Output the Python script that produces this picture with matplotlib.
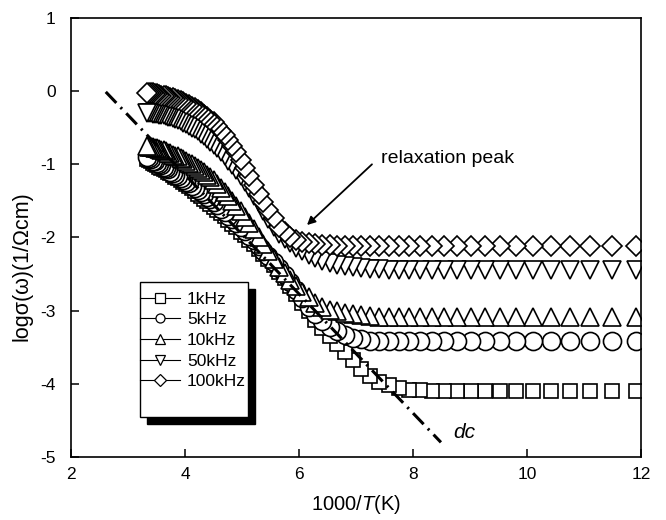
import numpy as np
import matplotlib
matplotlib.use("Agg")
import matplotlib.pyplot as plt
from matplotlib.lines import Line2D
from matplotlib.patches import Rectangle

plt.rcParams['font.family'] = ['Liberation Sans', 'DejaVu Sans']
plt.rcParams['axes.unicode_minus'] = False
plt.rcParams['mathtext.fontset'] = 'custom'
plt.rcParams['mathtext.rm'] = 'Liberation Sans'
plt.rcParams['mathtext.it'] = 'Liberation Sans:italic'

# measurement temperatures (K), high to low
temps = [300, 297, 294, 291, 288, 285, 282, 279, 276, 273, 270, 267, 264, 261, 258, 255,
         252, 249, 246, 243, 240, 237, 234, 231, 228, 225, 222, 219, 216, 213, 210, 207,
         204, 201, 198, 195, 192, 189, 186, 183, 180, 177, 174, 171, 168, 165, 162, 159,
         156, 153, 150, 147, 144, 141, 138, 135, 132, 129, 126, 123, 120, 117, 114, 111,
         108, 105, 102, 99, 96, 93, 90, 87, 84]

# log sigma for each frequency, same order as temps
s_1k = [-0.93, -0.94, -0.96, -0.98, -1.00, -1.01, -1.03, -1.05, -1.06, -1.08, -1.10, -1.12,
        -1.15, -1.17, -1.19, -1.22, -1.24, -1.27, -1.30, -1.33, -1.36, -1.40, -1.43, -1.47,
        -1.50, -1.54, -1.58, -1.62, -1.67, -1.71, -1.76, -1.81, -1.86, -1.92, -1.97, -2.03,
        -2.09, -2.16, -2.23, -2.30, -2.38, -2.47, -2.56, -2.66, -2.77, -2.89, -3.01, -3.13,
        -3.24, -3.35, -3.46, -3.57, -3.68, -3.80, -3.90, -3.97, -4.02, -4.06, -4.08, -4.09,
        -4.10, -4.10, -4.10, -4.10, -4.10, -4.10, -4.10, -4.10, -4.10, -4.10, -4.10, -4.10,
        -4.10]
s_5k = [-0.90, -0.91, -0.93, -0.95, -0.96, -0.98, -1.00, -1.01, -1.03, -1.05, -1.07, -1.10,
        -1.12, -1.14, -1.16, -1.19, -1.21, -1.24, -1.26, -1.29, -1.32, -1.35, -1.38, -1.41,
        -1.45, -1.48, -1.52, -1.56, -1.61, -1.65, -1.70, -1.75, -1.80, -1.86, -1.91, -1.98,
        -2.04, -2.11, -2.18, -2.25, -2.33, -2.42, -2.51, -2.61, -2.72, -2.83, -2.95, -3.05,
        -3.14, -3.22, -3.28, -3.33, -3.37, -3.39, -3.41, -3.41, -3.42, -3.42, -3.42, -3.42,
        -3.42, -3.42, -3.42, -3.42, -3.42, -3.42, -3.42, -3.42, -3.42, -3.42, -3.42, -3.42,
        -3.42]
s_10k = [-0.75, -0.76, -0.76, -0.77, -0.78, -0.78, -0.79, -0.80, -0.81, -0.82, -0.84, -0.85,
         -0.87, -0.88, -0.89, -0.91, -0.93, -0.95, -0.98, -1.00, -1.02, -1.05, -1.08, -1.11,
         -1.15, -1.18, -1.22, -1.27, -1.32, -1.38, -1.43, -1.50, -1.57, -1.64, -1.72, -1.80,
         -1.89, -1.99, -2.09, -2.19, -2.29, -2.40, -2.49, -2.58, -2.66, -2.74, -2.82, -2.89,
         -2.95, -2.99, -3.01, -3.03, -3.05, -3.06, -3.07, -3.08, -3.08, -3.08, -3.08, -3.08,
         -3.08, -3.08, -3.08, -3.08, -3.08, -3.08, -3.08, -3.08, -3.08, -3.08, -3.08, -3.08,
         -3.08]
s_50k = [-0.30, -0.30, -0.30, -0.31, -0.31, -0.31, -0.32, -0.32, -0.33, -0.34, -0.35, -0.36,
         -0.37, -0.38, -0.40, -0.41, -0.43, -0.45, -0.47, -0.50, -0.52, -0.55, -0.58, -0.61,
         -0.65, -0.69, -0.73, -0.78, -0.83, -0.89, -0.95, -1.01, -1.08, -1.16, -1.24, -1.33,
         -1.43, -1.53, -1.64, -1.75, -1.85, -1.95, -2.02, -2.08, -2.14, -2.19, -2.24, -2.28,
         -2.32, -2.35, -2.37, -2.39, -2.41, -2.42, -2.43, -2.43, -2.44, -2.44, -2.44, -2.44,
         -2.44, -2.44, -2.44, -2.44, -2.44, -2.44, -2.44, -2.44, -2.44, -2.44, -2.44, -2.44,
         -2.44]
s_100k = [-0.03, -0.03, -0.03, -0.03, -0.04, -0.04, -0.05, -0.06, -0.06, -0.07, -0.08, -0.09,
          -0.10, -0.11, -0.12, -0.14, -0.15, -0.17, -0.19, -0.21, -0.23, -0.26, -0.29, -0.32,
          -0.35, -0.39, -0.42, -0.48, -0.54, -0.60, -0.67, -0.75, -0.83, -0.94, -1.05, -1.16,
          -1.28, -1.41, -1.52, -1.63, -1.74, -1.85, -1.93, -1.99, -2.03, -2.06, -2.08, -2.09,
          -2.10, -2.10, -2.11, -2.11, -2.11, -2.11, -2.11, -2.11, -2.11, -2.11, -2.11, -2.11,
          -2.11, -2.11, -2.11, -2.11, -2.11, -2.11, -2.11, -2.11, -2.11, -2.11, -2.11, -2.11,
          -2.11]

labels = ['1kHz', '5kHz', '10kHz', '50kHz', '100kHz']
markers = ['s', 'o', '^', 'v', 'D']
sizes = [9.5, 13, 13.5, 13.5, 10]

# dc line end points (1000/T, log sigma)
dc_x = [2.61, 8.49]
dc_y = [-0.01, -4.80]

x = 1000 / np.array(temps)

fig = plt.figure(figsize=(6.66, 5.2), dpi=100)
ax = fig.add_axes([0.1066, 0.1212, 0.8559, 0.8442])

for y, m, ms in zip([s_1k, s_5k, s_10k, s_50k, s_100k], markers, sizes):
    # plot from low T to high T so the high-T points sit on top
    ax.plot(x[::-1], np.array(y)[::-1], ls='none', marker=m, ms=ms,
            mfc='white', mec='black', mew=1.2)

dcl, = ax.plot(dc_x, dc_y, color='black', lw=2.2, dash_capstyle='butt')
dcl.set_dashes([5, 2, 0.7, 2])

ax.annotate('', xy=(6.14, -1.83), xytext=(7.28, -1.0),
            arrowprops=dict(arrowstyle='-|>', color='black', lw=1.3,
                            mutation_scale=12, shrinkA=0, shrinkB=0))
ax.text(7.44, -0.98, 'relaxation peak', fontsize=14, va='baseline', ha='left')
ax.text(8.70, -4.74, 'dc', fontsize=15, style='italic', va='baseline', ha='left')

ax.set_xlim(2, 12)
ax.set_ylim(-5, 1)
ax.set_xticks([2, 4, 6, 8, 10, 12])
ax.set_yticks([-5, -4, -3, -2, -1, 0, 1])
ax.tick_params(direction='in', length=6, width=1.1, labelsize=12.5)
ax.tick_params(axis='y', pad=11)
ax.tick_params(axis='x', pad=7)
for sp in ax.spines.values():
    sp.set_linewidth(1.2)

ax.set_xlabel('1000/$T$(K)', fontsize=14.5)
ax.set_ylabel('logσ(ω)(1/Ωcm)', fontsize=15.5)
ax.xaxis.set_label_coords(0.5, -0.082)
ax.xaxis.label.set_va('top')
ax.yaxis.set_label_coords(-0.067, 0.435)

# legend box with a solid shadow
ax.add_patch(Rectangle((0.1333, 0.0752), 0.1895, 0.3075, transform=ax.transAxes,
                       facecolor='black', edgecolor='black', zorder=5))
ax.add_patch(Rectangle((0.121, 0.0911), 0.1895, 0.3075, transform=ax.transAxes,
                       facecolor='white', edgecolor='black', lw=1.0, zorder=6))
handles = [Line2D([], [], color='black', lw=0.8, marker=m, ms=6.5, mfc='white',
                  mec='black', mew=0.9) for m in markers]
leg = ax.legend(handles, labels, loc='upper left', bbox_to_anchor=(0.121, 0.377),
                frameon=False, fontsize=12.5, borderpad=0, borderaxespad=0,
                handlelength=2.3, handletextpad=0.4, labelspacing=0.32)
leg.set_zorder(7)

fig.savefig('out.png', dpi=100)
